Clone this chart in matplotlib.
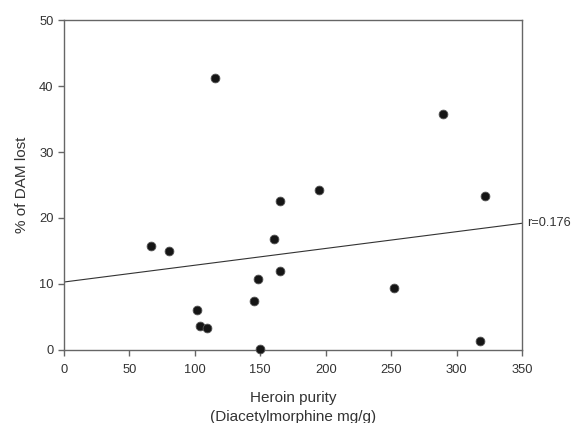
import matplotlib
matplotlib.use("Agg")
import numpy as np
import matplotlib.pyplot as plt

plt.rcParams['font.family'] = ['Liberation Sans', 'DejaVu Sans']

# Heroin purity (mg/g) vs % of DAM lost
purity = [66.6, 80.6, 101.8, 104.3, 109.2, 115.5, 145.4, 148.4, 149.7,
          160.2, 165.3, 165.3, 194.8, 252.0, 289.5, 317.8, 321.6]
dam_lost = [15.8, 15.0, 6.0, 3.7, 3.4, 41.2, 7.4, 10.8, 0.2,
            16.8, 12.0, 22.6, 24.2, 9.4, 35.7, 1.4, 23.4]

# regression line endpoints
line_x = [0, 350]
line_y = [10.3, 19.2]
r_label = "r=0.176"

fig = plt.figure(figsize=(5.73, 4.23), dpi=100)
ax = fig.add_axes([0.1117, 0.1726, 0.7993, 0.7801])

ax.plot(line_x, line_y, color="#333333", lw=0.8)
ax.scatter(purity, dam_lost, s=40, c="#151515", edgecolors="#555555",
           linewidths=0.6, zorder=3, clip_on=False)

ax.set_xlim(0, 350)
ax.set_ylim(0, 50)
ax.set_xticks(np.arange(0, 351, 50))
ax.set_yticks(np.arange(0, 51, 10))

for s in ax.spines.values():
    s.set_color("#666666")
    s.set_linewidth(1.0)
ax.tick_params(direction="out", length=4, width=1.0, color="#666666",
               labelsize=9.3, labelcolor="#333333", top=False, right=False)
ax.tick_params(axis="x", pad=6)

ax.set_xlabel("Heroin purity\n(Diacetylmorphine mg/g)", fontsize=11,
              color="#333333", linespacing=1.4)
ax.xaxis.set_label_coords(0.5, -0.125)
ax.set_ylabel("% of DAM lost", fontsize=11, color="#333333")
ax.yaxis.set_label_coords(-0.077, 0.5)

ax.text(1.012, line_y[1] / 50, r_label, transform=ax.transAxes,
        fontsize=9.2, color="#333333", va="center", ha="left")

fig.savefig("out.png", dpi=100)
